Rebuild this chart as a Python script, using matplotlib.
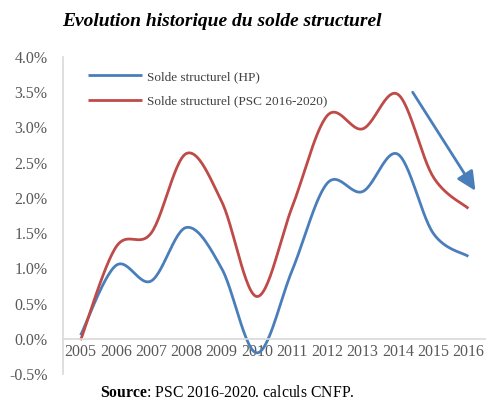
import numpy as np
import matplotlib
matplotlib.use("Agg")
import matplotlib.pyplot as plt
from matplotlib.ticker import FuncFormatter

years = [2005, 2006, 2007, 2008, 2009, 2010, 2011, 2012, 2013, 2014, 2015, 2016]
solde_hp = [0.05, 1.04, 0.82, 1.58, 1.0, -0.2, 0.97, 2.21, 2.09, 2.62, 1.5, 1.17]
solde_psc = [-0.02, 1.3, 1.5, 2.63, 1.95, 0.6, 1.87, 3.17, 2.98, 3.47, 2.3, 1.85]
labels = ["Solde structurel (HP)", "Solde structurel (PSC 2016-2020)"]
colors = ["#4A7EBB", "#BE4B48"]


def smooth(x, y, n=30):
    # Excel-like smoothed line (Catmull-Rom through every point)
    x = np.asarray(x, float)
    y = np.asarray(y, float)
    px = np.concatenate([[x[0]], x, [x[-1]]])
    py = np.concatenate([[y[0]], y, [y[-1]]])
    xs, ys = [], []
    t = np.linspace(0, 1, n)
    for i in range(1, len(px) - 2):
        p0, p1, p2, p3 = [np.array([px[j], py[j]]) for j in range(i - 1, i + 3)]
        c1 = p1 + (p2 - p0) / 6
        c2 = p2 - (p3 - p1) / 6
        pts = ((1 - t) ** 3)[:, None] * p1 + (3 * (1 - t) ** 2 * t)[:, None] * c1 \
            + (3 * (1 - t) * t ** 2)[:, None] * c2 + (t ** 3)[:, None] * p2
        xs.extend(pts[:, 0])
        ys.extend(pts[:, 1])
    return xs, ys


plt.rcParams['font.family'] = ['Liberation Serif', 'DejaVu Serif']
plt.rcParams['mathtext.fontset'] = 'custom'
plt.rcParams['mathtext.rm'] = 'Liberation Serif'
plt.rcParams['mathtext.bf'] = 'Liberation Serif:bold'

fig = plt.figure(figsize=(4.86, 4.01), dpi=100)
ax = fig.add_axes([63 / 486, 1 - 374 / 401, 423 / 486, 317 / 401])

for vals, lab, col in zip([solde_hp, solde_psc], labels, colors):
    sx, sy = smooth(years, vals)
    ax.plot(sx, sy, color=col, lw=2, label=lab, solid_capstyle='butt')

ax.annotate("", xy=(2016.2, 2.1), xytext=(2014.42, 3.5),
            arrowprops=dict(arrowstyle="-|>,head_length=1.15,head_width=0.55",
                            color="#4A7EBB", lw=2.0, shrinkA=0, shrinkB=0))

ax.set_xlim(2004.5, 2016.5)
ax.set_ylim(-0.5, 4.0)
ax.set_yticks(np.arange(-0.5, 4.01, 0.5))
ax.yaxis.set_major_formatter(FuncFormatter(lambda v, p: "%.1f%%" % v))
ax.set_xticks(years)
ax.set_xticklabels([str(y) for y in years])

for s in ['top', 'right']:
    ax.spines[s].set_visible(False)
ax.spines['bottom'].set_position(('data', 0))
ax.spines['bottom'].set_color('#D9D9D9')
ax.spines['left'].set_color('#D9D9D9')
ax.spines['bottom'].set_linewidth(1.2)
ax.spines['left'].set_linewidth(1.2)
ax.tick_params(axis='both', length=0, labelsize=11.5, colors='#595959')
ax.tick_params(axis='y', pad=11)
ax.tick_params(axis='x', pad=4)

leg = ax.legend(loc='upper left', bbox_to_anchor=(0.035, 0.99), frameon=False,
                fontsize=9.5, handlelength=4.1, labelspacing=0.95, handletextpad=0.38,
                borderpad=0.3)
for t in leg.get_texts():
    t.set_color('#404040')

fig.text(62 / 486, 1 - 22 / 401, "Evolution historique du solde structurel",
         fontsize=14, fontweight='bold', fontstyle='italic', va='center', ha='left')
fig.text(227 / 486, 1 - 393 / 401, r"$\mathbf{Source}$: PSC 2016-2020. calculs CNFP.",
         fontsize=11.3, ha='center', va='center')

fig.savefig("out.png", dpi=100)
